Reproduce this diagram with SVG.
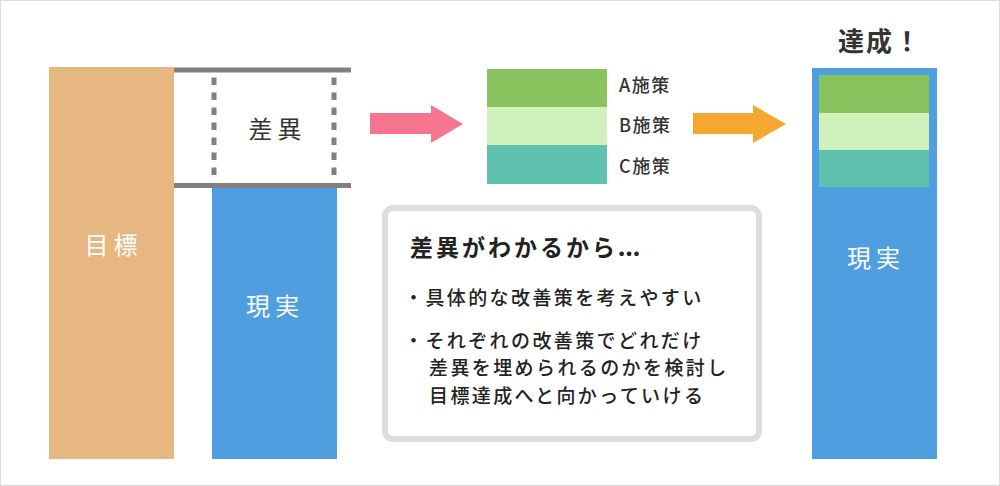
<svg xmlns="http://www.w3.org/2000/svg" width="1000" height="486" viewBox="0 0 1000 486">
<style>
text { font-family: "Noto Sans CJK JP", "Noto Sans", sans-serif; }
.big { font-size: 24px; letter-spacing: 5px; text-anchor: middle; }
.w { fill: #ffffff; }
.d { fill: #333333; }
.lbl { font-size: 18px; fill: #333333; letter-spacing: 1.5px; font-weight: 500; }
.body { font-size: 19px; fill: #222222; letter-spacing: 2.4px; font-weight: 500; }
.gl { stroke: #808080; stroke-width: 5; fill: none; }
.dash { stroke: #808080; stroke-width: 5; fill: none; stroke-dasharray: 7.5 7.5; }
</style>
<rect x="0.5" y="0.5" width="999" height="485" fill="#ffffff" stroke="#dddddd" stroke-width="1"/>

<g id="target">
<rect x="49" y="67" width="125" height="392" fill="#E6B780"/>
<text class="big w" x="113.5" y="254">目標</text>
</g>

<g id="gap">
<line class="gl" x1="174" y1="70" x2="351" y2="70"/>
<line class="gl" x1="174" y1="185.5" x2="351" y2="185.5"/>
<line class="dash" x1="214" y1="77.5" x2="214" y2="176"/>
<line class="dash" x1="334" y1="77.5" x2="334" y2="176"/>
<text class="big d" x="277.5" y="138">差異</text>
</g>

<g id="current">
<rect x="212" y="188" width="125" height="271" fill="#4F9EE0"/>
<text class="big w" x="275" y="315">現実</text>
</g>

<g id="measures">
<rect x="487" y="69" width="120" height="38" fill="#88C35E"/>
<rect x="487" y="107" width="120" height="38" fill="#D0F0BC"/>
<rect x="487" y="145" width="120" height="39" fill="#5FC2AE"/>
<text class="lbl" x="619" y="92">A施策</text>
<text class="lbl" x="619" y="132">B施策</text>
<text class="lbl" x="619" y="173">C施策</text>
</g>

<g id="achieved">
<text x="838" y="51" font-size="26" font-weight="bold" fill="#333333" letter-spacing="2">達成！</text>
<rect x="812" y="68" width="125" height="391" fill="#4F9EE0"/>
<rect x="819" y="75" width="110" height="38" fill="#88C35E"/>
<rect x="819" y="113" width="110" height="37" fill="#D0F0BC"/>
<rect x="819" y="150" width="110" height="37" fill="#5FC2AE"/>
<text class="big w" x="876" y="267">現実</text>
</g>

<g id="note">
<rect x="385" y="208" width="374" height="231" rx="8" fill="#ffffff" stroke="#dedede" stroke-width="6"/>
<text x="410" y="256" font-size="23" font-weight="bold" fill="#222222" letter-spacing="3">差異がわかるから<tspan font-family="Noto Sans, sans-serif" font-size="26" letter-spacing="1">…</tspan></text>
<text class="body" x="404" y="305">・具体的な改善策を考えやすい</text>
<text class="body" x="404" y="348">・それぞれの改善策でどれだけ</text>
<text class="body" x="429" y="375">差異を埋められるのかを検討し</text>
<text class="body" x="429" y="403">目標達成へと向かっていける</text>
</g>

<g id="connectors">
<polygon points="370,113 431,113 431,105 463,124 431,143 431,134 370,134" fill="#F7768F"/>
<polygon points="693,113 753,113 753,105 786,124 753,143 753,134 693,134" fill="#F6A730"/>
</g>
</svg>
